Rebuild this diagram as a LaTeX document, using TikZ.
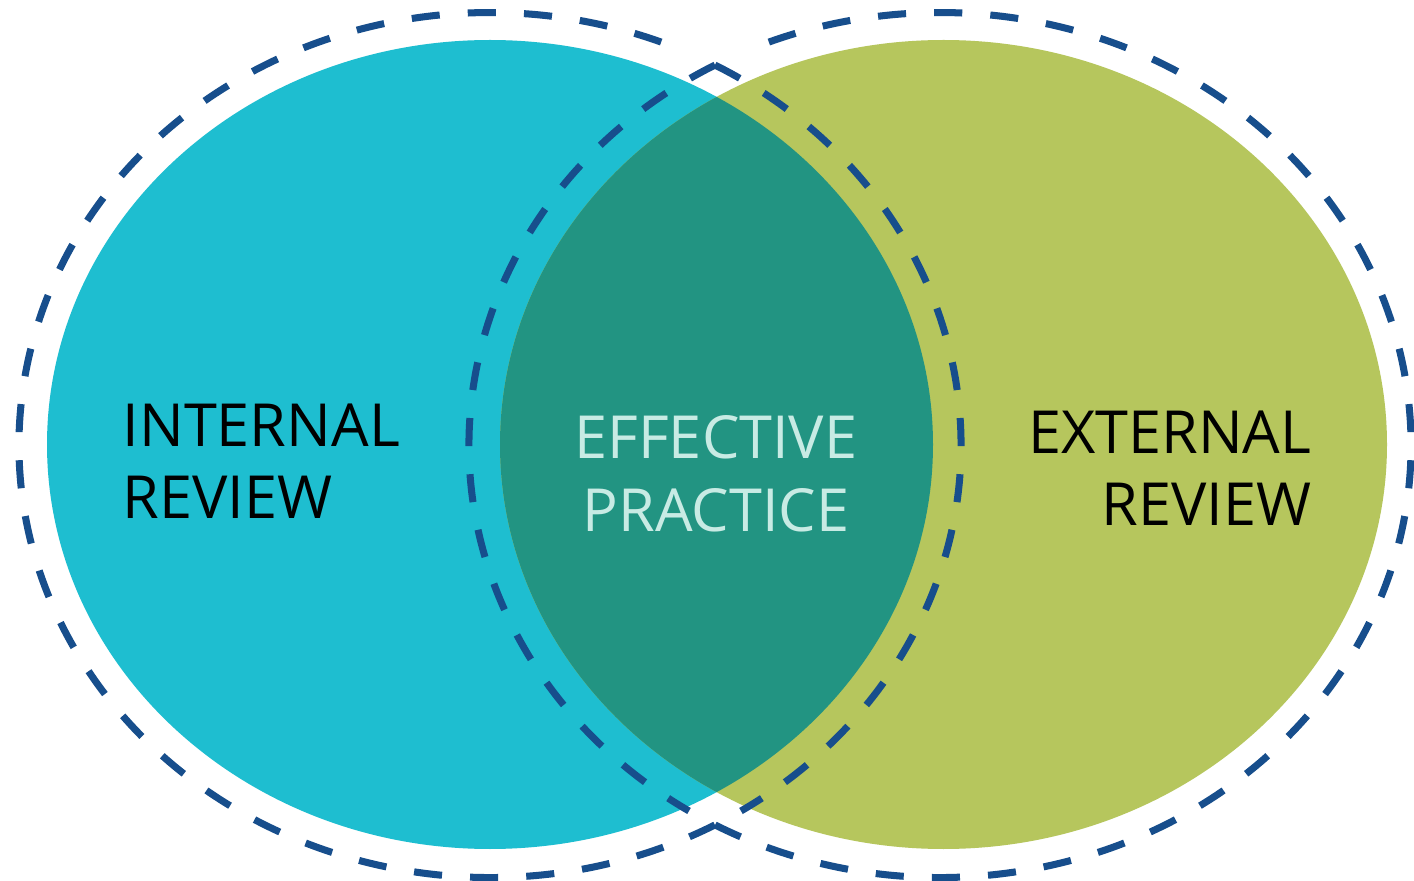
\documentclass[tikz,border=0pt]{standalone}
\usepackage{fontspec}
\setmainfont{Open Sans}
\usetikzlibrary{calc}
\definecolor{internalcyan}{HTML}{1EBED0}
\definecolor{externalgreen}{HTML}{B6C65D}
\definecolor{practiceteal}{HTML}{229482}
\definecolor{rimblue}{HTML}{174E8C}
\definecolor{practicetext}{HTML}{C8EBE4}
% arc of an ellipse around a centre: [style](centre)(start:end:xradius:yradius)
\def\rimarc[#1](#2)(#3:#4:#5:#6){\draw[#1] ($(#2)+({#5*cos(#3)},{#6*sin(#3)})$) arc (#3:#4:#5 and #6);}

\begin{document}
\begin{tikzpicture}[
		rim/.style={line width=2pt, color=rimblue, dash pattern=on 8pt off 8pt},
		word/.style={inner sep=0pt, font=\fontsize{16.9}{20.6}\selectfont}
	]
		%%%%% START %%%%%
		
		\useasboundingbox[fill=white] (0, 0) rectangle (14.14, 8.80);
		
		\fill[internalcyan] (4.90, 4.355) ellipse (4.43 and 4.045);
		\fill[externalgreen] (9.435, 4.355) ellipse (4.435 and 4.045);
		
		% overlap of the two
		\begin{scope}
			\clip (4.90, 4.355) ellipse (4.43 and 4.045);
			\fill[practiceteal] (9.435, 4.355) ellipse (4.435 and 4.045);
		\end{scope}
		
		% dashed rims: inner pieces start at the top crossing, outer pieces at the bottom one
		\rimarc[rim](4.90, 4.35)(61.47:-57.8:4.71:4.325);
		\rimarc[rim](4.90, 4.35)(-61.47:-293.4:4.71:4.325);
		\rimarc[rim](9.40, 4.35)(118.53:237.8:4.71:4.325);
		\rimarc[rim](9.40, 4.35)(241.47:473.4:4.71:4.325);
		
		\node[word, anchor=north west, align=left] (internal) at (1.22, 4.77) {INTERNAL\\REVIEW};
		\node[word, anchor=north, align=center, color=practicetext] (practice) at (7.16, 4.65) {EFFECTIVE\\PRACTICE};
		\node[word, anchor=north east, align=right] (external) at (13.12, 4.70) {EXTERNAL\\REVIEW};
		
		%%%%% END %%%%%
\end{tikzpicture}
\end{document}
